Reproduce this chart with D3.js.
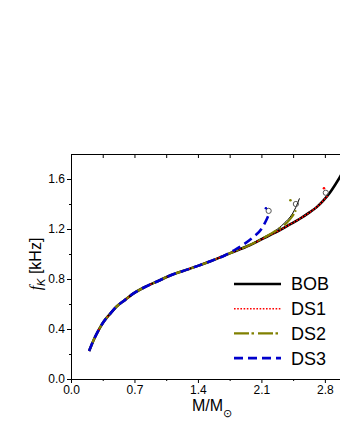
<!DOCTYPE html>
<html lang="en">
<head>
    <meta charset="UTF-8">
    <script src="https://cdn.jsdelivr.net/npm/d3@7"></script>
    <title>fK vs M</title>
    <style>
        html, body {
            margin: 0px;
            padding: 0px;
            background-color: #ffffff;
            font-family: "Liberation Sans", Arial, sans-serif;
        }
        svg { display: block; }
    </style>
</head>
<body>
    <div id="chart"></div>

    <script>
        // data (M in solar masses, f in kHz)
        let bobM = [0.2, 0.25, 0.3, 0.36, 0.43, 0.5, 0.6, 0.69, 0.8, 0.98, 1.1, 1.28, 1.4, 1.53, 1.75, 1.97, 2.19, 2.3, 2.41, 2.52, 2.635, 2.71, 2.78, 2.855, 2.91, 2.97, 3.0];
        let bobF = [0.224, 0.312, 0.385, 0.458, 0.52, 0.578, 0.635, 0.685, 0.73, 0.79, 0.83, 0.875, 0.905, 0.94, 1.005, 1.07, 1.15, 1.19, 1.235, 1.28, 1.335, 1.375, 1.425, 1.49, 1.55, 1.62, 1.66];

        let ds1M = [0.2, 0.25, 0.3, 0.36, 0.43, 0.5, 0.6, 0.69, 0.8, 0.98, 1.1, 1.28, 1.4, 1.53, 1.75, 1.97, 2.19, 2.3, 2.41, 2.52, 2.635, 2.71, 2.78, 2.83];
        let ds1F = [0.224, 0.312, 0.385, 0.458, 0.52, 0.578, 0.635, 0.685, 0.73, 0.79, 0.83, 0.875, 0.905, 0.94, 1.005, 1.07, 1.15, 1.19, 1.235, 1.28, 1.335, 1.375, 1.425, 1.465];

        let ds2M = [0.2, 0.25, 0.3, 0.36, 0.43, 0.5, 0.6, 0.69, 0.8, 0.98, 1.1, 1.28, 1.4, 1.53, 1.75, 1.95, 2.1, 2.2, 2.3, 2.38, 2.44, 2.48];
        let ds2F = [0.224, 0.312, 0.385, 0.458, 0.52, 0.578, 0.635, 0.685, 0.73, 0.79, 0.83, 0.875, 0.905, 0.94, 1.005, 1.065, 1.12, 1.16, 1.205, 1.25, 1.30, 1.35];

        // thin solid line next to DS2
        let thinM = [2.0, 2.1, 2.25, 2.35, 2.44, 2.49, 2.52];
        let thinF = [1.085, 1.125, 1.185, 1.245, 1.32, 1.39, 1.445];

        let ds3M = [0.2, 0.25, 0.3, 0.36, 0.43, 0.5, 0.6, 0.69, 0.8, 0.98, 1.1, 1.28, 1.4, 1.53, 1.7, 1.8, 1.9, 2.0, 2.1, 2.16, 2.19];
        let ds3F = [0.224, 0.312, 0.385, 0.458, 0.52, 0.578, 0.635, 0.685, 0.73, 0.79, 0.83, 0.875, 0.905, 0.94, 0.99, 1.03, 1.075, 1.13, 1.20, 1.28, 1.33];

        // open circles and small dots at the curve ends
        let circleM = [2.81, 2.48, 2.18];
        let circleF = [1.49, 1.40, 1.345];
        let dotM = [2.79, 2.42, 2.15];
        let dotF = [1.526, 1.43, 1.366];
        let dotColors = ['#ff0000', '#808000', '#0000cc'];

        let xTicks = [0.0, 0.7, 1.4, 2.1, 2.8];
        let yTicks = [0.0, 0.4, 0.8, 1.2, 1.6];
        let legendNames = ['BOB', 'DS1', 'DS2', 'DS3'];

        let width = 340;
        let height = 440;

        let margin = { top: 154, bottom: 61, left: 71, right: -3 };

        let svg = d3.select('#chart').append('svg').attr('width', width).attr('height', height);

        let x = d3.scaleLinear().domain([0, 3.0]).range([margin.left, width - margin.right]);
        let y = d3.scaleLinear().domain([0, 1.8]).range([height - margin.bottom, margin.top]);

        svg.append('clipPath').attr('id', 'plot-clip')
            .append('rect')
            .attr('x', x(0)).attr('y', y(1.8))
            .attr('width', x(3.0) - x(0)).attr('height', y(0) - y(1.8));

        let zip = (ms, fs) => ms.map((m, i) => [m, fs[i]]);
        let line = d3.line().x(d => x(d[0])).y(d => y(d[1])).curve(d3.curveMonotoneX);

        let series = [
            { data: zip(bobM, bobF), color: '#000000', width: 2.6, dash: null },
            { data: zip(thinM, thinF), color: '#000000', width: 1, dash: null },
            { data: zip(ds1M, ds1F), color: '#ff0000', width: 1.6, dash: '1.6,1.6' },
            { data: zip(ds2M, ds2F), color: '#808000', width: 2.2, dash: '15,2.5,2.5,4' },
            { data: zip(ds3M, ds3F), color: '#0000cc', width: 2.6, dash: '9,5' }
        ];

        let plot = svg.append('g').attr('clip-path', 'url(#plot-clip)');
        series.forEach((s) => {
            plot.append('path')
                .attr('d', line(s.data))
                .attr('fill', 'none')
                .attr('stroke', s.color)
                .attr('stroke-width', s.width)
                .attr('stroke-dasharray', s.dash);
        });

        plot.selectAll('circle.end')
            .data(zip(circleM, circleF))
            .join('circle')
            .attr('class', 'end')
            .attr('cx', d => x(d[0])).attr('cy', d => y(d[1]))
            .attr('r', 2.6)
            .attr('fill', 'none')
            .attr('stroke', '#555')
            .attr('stroke-width', 1);

        plot.selectAll('circle.dot')
            .data(zip(dotM, dotF))
            .join('circle')
            .attr('class', 'dot')
            .attr('cx', d => x(d[0])).attr('cy', d => y(d[1]))
            .attr('r', 1.3)
            .attr('fill', (d, i) => dotColors[i]);

        // axes
        let minorX = d3.range(0.35, 3.0, 0.7);
        let minorY = d3.range(0.2, 1.8, 0.4);
        let fmt = d3.format('.1f');

        let xAxis = svg.append('g').attr('transform', `translate(0,${y(0)})`)
            .call(d3.axisBottom(x).tickValues(xTicks).tickFormat(fmt).tickSize(4).tickSizeOuter(0));
        svg.append('g').attr('transform', `translate(0,${y(0)})`)
            .call(d3.axisBottom(x).tickValues(minorX).tickFormat('').tickSize(2).tickSizeOuter(0))
            .select('.domain').remove();

        let yAxis = svg.append('g').attr('transform', `translate(${x(0)},0)`)
            .call(d3.axisLeft(y).tickValues(yTicks).tickFormat(fmt).tickSize(4).tickSizeOuter(0));
        svg.append('g').attr('transform', `translate(${x(0)},0)`)
            .call(d3.axisLeft(y).tickValues(minorY).tickFormat('').tickSize(2).tickSizeOuter(0))
            .select('.domain').remove();

        // top frame with inward ticks
        svg.append('g').attr('transform', `translate(0,${y(1.8)})`)
            .call(d3.axisTop(x).tickValues(xTicks.concat(minorX)).tickFormat('').tickSize(-4).tickSizeOuter(0));

        svg.selectAll('.tick text')
            .attr('font-family', '"Liberation Sans", Arial, sans-serif')
            .attr('font-size', 12)
            .attr('fill', '#000');
        xAxis.selectAll('.tick text').attr('y', 6.5);
        yAxis.selectAll('.tick text').attr('x', -6);
        svg.selectAll('.domain, .tick line').attr('stroke', '#000').attr('stroke-width', 1);

        // axis titles
        let xt = svg.append('text')
            .attr('x', 212).attr('y', 411)
            .attr('text-anchor', 'middle')
            .attr('font-size', 16)
            .attr('font-family', '"Liberation Sans", Arial, sans-serif');
        xt.append('tspan').text('M/M');
        xt.append('tspan').attr('font-size', 11).attr('dy', 6).text('\u2299');

        let yt = svg.append('text')
            .attr('transform', 'translate(41,264) rotate(-90)')
            .attr('text-anchor', 'middle')
            .attr('font-size', 16)
            .attr('font-family', '"Liberation Sans", Arial, sans-serif');
        yt.append('tspan').attr('font-style', 'italic').attr('font-family', '"Liberation Serif", serif').text('f');
        yt.append('tspan').attr('font-style', 'italic').attr('font-size', 11).attr('dy', 4).text('K');
        yt.append('tspan').attr('dy', -4).text(' [kHz]');

        // legend
        let legend = svg.append('g');
        let legendSeries = [series[0], series[2], series[3], series[4]];
        legendNames.forEach((name, i) => {
            let ly = 284 + i * 24.7;
            let s = legendSeries[i];
            legend.append('line')
                .attr('x1', 234).attr('x2', 281)
                .attr('y1', ly).attr('y2', ly)
                .attr('stroke', s.color)
                .attr('stroke-width', s.width)
                .attr('stroke-dasharray', s.dash);
            legend.append('text')
                .attr('x', 291).attr('y', ly)
                .attr('dy', '0.36em')
                .attr('font-size', 18)
                .attr('font-family', '"Liberation Sans", Arial, sans-serif')
                .text(name);
        });
    </script>
</body>
</html>
